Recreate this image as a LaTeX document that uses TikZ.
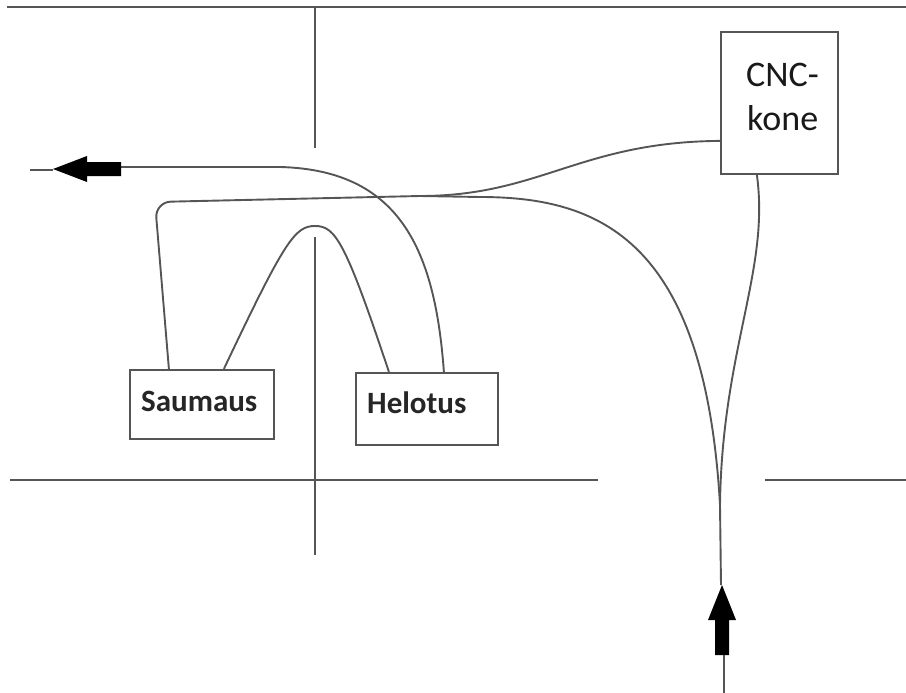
\documentclass[tikz,border=0pt]{standalone}
\usepackage{fontspec}
\setmainfont{Carlito}
\usetikzlibrary{calc}
\definecolor{lc}{HTML}{555555}
\begin{document}
\begin{tikzpicture}[x=1pt,y=-1pt,
  ln/.style={draw=lc, line width=1.9pt},
  box/.style={draw=lc, line width=2.2pt, fill=white, inner sep=0pt},
  lbl/.style={anchor=base west, inner sep=0pt, font=\fontsize{31}{37}\selectfont\bfseries, text=black!85},
  cnclbl/.style={anchor=base west, inner sep=0pt, font=\fontsize{36}{44}\selectfont, text=black!90},
  blk/.style={fill=black}]
\useasboundingbox (0,0) rectangle (906,693);
% frame lines
\draw[ln] (7,7) -- (906,7);
\draw[ln] (315,7) -- (315,148);
\draw[ln] (315,237) -- (315,555);
\draw[ln] (10,480) -- (598,480);
\draw[ln] (765,480) -- (906,480);
% boxes
\node[box, minimum width=144pt, minimum height=69pt] (sau) at (202,404.5) {};
\node[box, minimum width=142pt, minimum height=72pt] (hel) at (427,409) {};
\node[box, minimum width=117pt, minimum height=142pt] (cnc) at (779.5,103) {};
\node[lbl] (sautxt) at (141,411) {Saumaus};
\node[lbl] (heltxt) at (367,413) {Helotus};
\node[cnclbl] (cnc1) at (746,87) {CNC-};
\node[cnclbl] (cnc2) at (747,131) {kone};
% anchor points
\coordinate (sA) at ($(sau.north west)+(40,0)$);
\coordinate (sB) at ($(sau.north west)+(95,0)$);
\coordinate (hA) at ($(hel.north west)+(34,0)$);
\coordinate (hB) at ($(hel.north west)+(89,0)$);
\coordinate (cW) at ($(cnc.north west)+(0,110)$);
\coordinate (cS) at ($(cnc.south west)+(37,0)$);
\coordinate (jn) at (420,196);
\coordinate (mg) at (720,505);
\coordinate (lt) at (121,167);
\coordinate (bt) at (721,585);
% connectors
\draw[ln, rounded corners=16pt] (sA) -- (155,202) -- (jn);
\draw[ln] (jn) .. controls (540,196) and (580,142) .. (cW);
\draw[ln] (jn) -- (480,197) .. controls (600,197) and (705,240) .. (mg);
\draw[ln] (cS) .. controls (770,270) and (722,350) .. (mg);
\draw[ln] (mg) -- (bt);
\draw[ln] (sB) .. controls (285,240) and (295,226) .. (315,226) .. controls (335,226) and (345,240) .. (hA);
\draw[ln] (hB) .. controls (435,250) and (400,170) .. (280,167) -- (lt);
% left arrow
\fill[blk] (121,162) -- (87,162) -- (87,156) -- (53,169) -- (87,182) -- (87,176) -- (121,176) -- cycle;
\draw[ln] (53,170) -- (30,170);
% bottom arrow
\fill[blk] (715,655) -- (715,620) -- (708,620) -- (722,585) -- (736,620) -- (729,620) -- (729,655) -- cycle;
\draw[ln] (724,655) -- (724,693);
\end{tikzpicture}
\end{document}
